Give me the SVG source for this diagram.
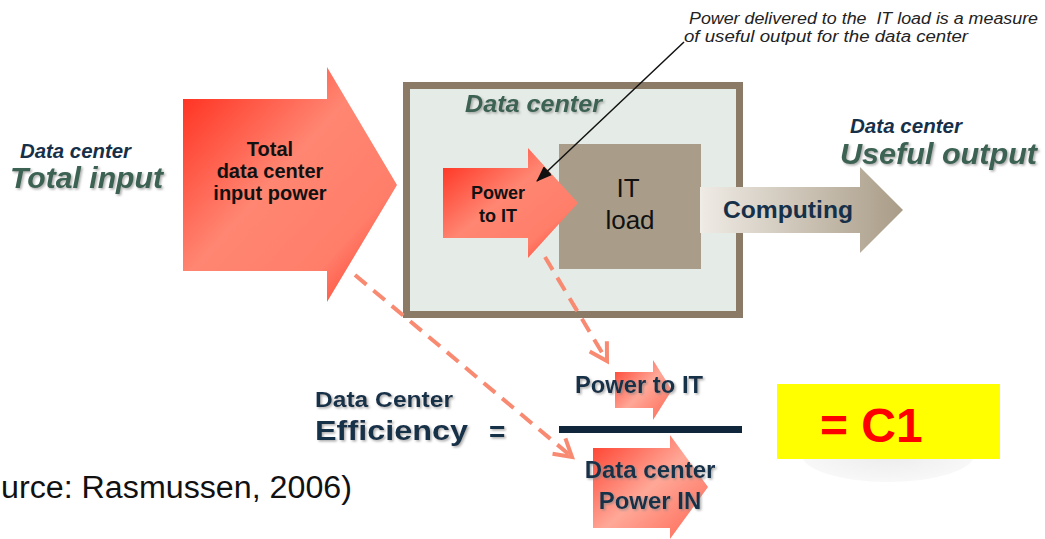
<svg xmlns="http://www.w3.org/2000/svg" width="1045" height="539" viewBox="0 0 1045 539">
<defs>
<style>
text{font-family:"Liberation Sans",Arial,sans-serif}
.navy{fill:#17304a}
.green{fill:#3b6253}
.bi{font-weight:bold;font-style:italic}
.b{font-weight:bold}
.dark{fill:#111}
.dash{fill:none;stroke:#f98a72;stroke-width:4;stroke-dasharray:15 9}
</style>
<linearGradient id="redG" x1="0" y1="0" x2="1" y2="1">
<stop offset="0" stop-color="#ff2616"/>
<stop offset="0.45" stop-color="#ff8672"/>
<stop offset="0.75" stop-color="#ff7e6a"/>
<stop offset="1" stop-color="#ff2e1c"/>
</linearGradient>
<linearGradient id="redG2" x1="0" y1="0" x2="1" y2="1">
<stop offset="0" stop-color="#ff3a28"/>
<stop offset="0.5" stop-color="#ffa898"/>
<stop offset="1" stop-color="#ff6450"/>
</linearGradient>
<linearGradient id="tanG" x1="0" y1="0" x2="1" y2="0">
<stop offset="0" stop-color="#efebe5"/>
<stop offset="1" stop-color="#a99c87"/>
</linearGradient>
<radialGradient id="shadowG" cx="0.5" cy="0.5" r="0.5">
<stop offset="0" stop-color="#ececec"/>
<stop offset="1" stop-color="#f8f8f8"/>
</radialGradient>
<filter id="ts" x="-5%" y="-20%" width="115%" height="150%">
<feDropShadow dx="1.5" dy="1.5" stdDeviation="0.8" flood-color="#888" flood-opacity="0.7"/>
</filter>
<marker id="chev" markerUnits="userSpaceOnUse" markerWidth="26" markerHeight="26" viewBox="0 0 26 26" refX="22" refY="13" orient="auto">
<path d="M5,3 L22,13 L5,23" fill="none" stroke="#f98a72" stroke-width="4"/>
</marker>
<marker id="blk" markerUnits="userSpaceOnUse" markerWidth="16" markerHeight="12" viewBox="0 0 16 12" refX="15" refY="6" orient="auto">
<path d="M0,0 L16,6 L0,12 Z" fill="#111"/>
</marker>
</defs>
<rect width="1045" height="539" fill="#fff"/>

<g id="labels-left">
<text x="20" y="158" class="bi navy" font-size="20" textLength="111" lengthAdjust="spacingAndGlyphs">Data center</text>
<text x="10" y="188" class="bi green" font-size="30" textLength="153" lengthAdjust="spacingAndGlyphs" filter="url(#ts)">Total input</text>
</g>

<g id="total-input-arrow">
<polygon points="183,99 327,99 327,67 397,185 327,302 327,271 183,271" fill="url(#redG)"/>
<text x="270" y="156" class="b dark" font-size="20" text-anchor="middle">Total</text>
<text x="270" y="178" class="b dark" font-size="20" text-anchor="middle">data center</text>
<text x="270" y="200" class="b dark" font-size="20" text-anchor="middle">input power</text>
</g>

<g id="data-center-box">
<rect x="406.5" y="85.5" width="333" height="229" fill="#e5ece7" stroke="#8b7b66" stroke-width="7"/>
<text x="465" y="112" class="bi green" font-size="23" textLength="137" lengthAdjust="spacingAndGlyphs" filter="url(#ts)">Data center</text>
</g>

<g id="it-load">
<rect x="559" y="144" width="142" height="125" fill="#a99d89"/>
<text x="628" y="197" class="dark" font-size="26" text-anchor="middle">IT</text>
<text x="630" y="229" class="dark" font-size="26" text-anchor="middle">load</text>
</g>

<g id="power-to-it-arrow">
<polygon points="443,168 528,168 528,148 578,203 528,258 528,238 443,238" fill="url(#redG)"/>
<text x="498" y="199" class="b dark" font-size="18" text-anchor="middle">Power</text>
<text x="498" y="222" class="b dark" font-size="18" text-anchor="middle">to IT</text>
</g>

<g id="computing-arrow">
<polygon points="700,187 860,187 860,167 903,210 860,253 860,233 700,233" fill="url(#tanG)"/>
<text x="723" y="218" class="b navy" font-size="23" textLength="130" lengthAdjust="spacingAndGlyphs">Computing</text>
</g>

<g id="labels-right">
<text x="850" y="133" class="bi navy" font-size="20" textLength="112" lengthAdjust="spacingAndGlyphs">Data center</text>
<text x="840" y="164" class="bi green" font-size="29" textLength="197" lengthAdjust="spacingAndGlyphs" filter="url(#ts)">Useful output</text>
</g>

<g id="annotation">
<text x="689" y="24" font-size="16" font-style="italic" fill="#222" textLength="349" lengthAdjust="spacingAndGlyphs" xml:space="preserve">Power delivered to the  IT load is a measure</text>
<text x="684" y="42" font-size="16" font-style="italic" fill="#222" textLength="284" lengthAdjust="spacingAndGlyphs">of useful output for the data center</text>
</g>

<g id="connectors">
<line x1="684" y1="42" x2="537" y2="181" stroke="#111" stroke-width="1.5" marker-end="url(#blk)"/>
<line class="dash" x1="355" y1="275" x2="572" y2="457" marker-end="url(#chev)"/>
<line class="dash" x1="545" y1="257" x2="607" y2="361" marker-end="url(#chev)"/>
</g>

<g id="formula">
<text x="315" y="407" class="b navy" font-size="22" textLength="138" lengthAdjust="spacingAndGlyphs" filter="url(#ts)">Data Center</text>
<text x="315" y="440" class="b navy" font-size="27" textLength="153" lengthAdjust="spacingAndGlyphs" filter="url(#ts)">Efficiency</text>
<text x="489" y="441" class="b navy" font-size="28" filter="url(#ts)">=</text>
<polygon points="615,372 653,372 653,360 672,390 653,420 653,408 615,408" fill="url(#redG2)"/>
<text x="575" y="393" class="b navy" font-size="24" textLength="128" lengthAdjust="spacingAndGlyphs" filter="url(#ts)">Power to IT</text>
<rect x="559" y="426" width="183" height="7" fill="#10263b"/>
<polygon points="593,448 670,448 670,435 708,487 670,539 670,528 593,528" fill="url(#redG2)"/>
<text x="650" y="478" class="b navy" font-size="24" text-anchor="middle" filter="url(#ts)">Data center</text>
<text x="650" y="509" class="b navy" font-size="24" text-anchor="middle" filter="url(#ts)">Power IN</text>
</g>

<g id="result">
<ellipse cx="888" cy="455" rx="86" ry="27" fill="url(#shadowG)"/>
<rect x="777" y="384" width="223" height="75" fill="#ffff00"/>
<text x="820" y="442" class="b" font-size="48" fill="#ff0000">= C1</text>
</g>

<g id="source">
<text x="1" y="498" font-size="31" fill="#111" textLength="351" lengthAdjust="spacingAndGlyphs">urce: Rasmussen, 2006)</text>
</g>
</svg>
